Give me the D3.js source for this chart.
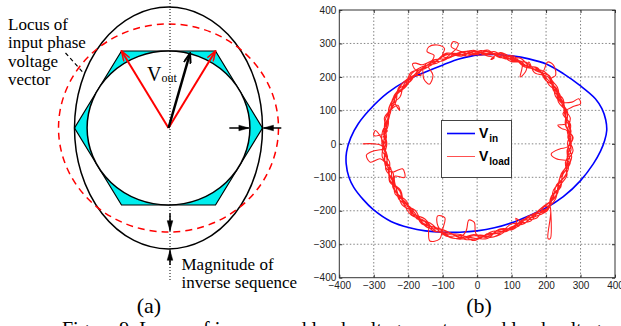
<!DOCTYPE html>
<html>
<head>
<meta charset="utf-8">
<script src="https://cdn.jsdelivr.net/npm/d3@7"></script>
<style>
  body { margin: 0; background: #fff; }
  svg { display: block; }
</style>
</head>
<body>
<script>
// ---- data for plot (b) ----
const tickValues = [-400, -300, -200, -100, 0, 100, 200, 300, 400];
const seriesNames = ["in", "load"];

// input voltage locus (x, y), read around the blue curve
const vinPoints = [
  [370, 10], [376, 40], [373, 72], [362, 105], [343, 135], [299, 174], [250, 210],
  [202, 238], [150, 254], [100, 263], [50, 267], [3, 266], [-50, 254], [-99, 236],
  [-150, 215], [-200, 192], [-260, 152], [-310, 104], [-345, 60], [-367, 18],
  [-379, -25], [-380, -60], [-372, -100], [-358, -130], [-331, -166], [-302, -196],
  [-250, -232], [-196, -251], [-150, -260], [-100, -264], [-50, -264], [0, -260],
  [50, -251], [100, -236], [150, -215], [202, -190], [250, -158], [300, -110],
  [337, -60], [358, -22]
];

// load voltage trace as [angle in degrees, radius], one array per turn
const loadTurn1 = [
  [180, 332], [180, 300], [181, 278], [188, 263], [196, 276], [204, 266], [212, 281], [220, 271],
  [228, 280], [236, 271], [244, 286], [252, 283], [260, 275], [268, 289], [276, 273], [284, 274],
  [292, 259], [296, 262], [296.8, 249], [298.5, 264], [300, 273], [308, 270], [316, 283], [324, 266],
  [332, 272], [340, 265], [348, 276], [356, 264], [4, 272], [12, 264], [20, 279], [28, 274], [36, 288],
  [42.2, 290], [42, 306], [46.6, 323], [50.1, 319], [48.5, 287], [52, 282], [60, 268], [68, 279],
  [76, 266], [84, 282], [92, 269], [100, 276], [108, 269], [116, 280], [124, 285], [126.5, 300],
  [128, 304], [129, 290], [128.3, 262], [132, 273], [140, 277], [148, 264], [156, 278], [164, 270], [172, 274]
];
const loadTurn2 = [
  [180, 265], [183, 271], [184, 300], [186, 323], [190, 315], [189, 285], [192, 272], [196, 266],
  [204, 278], [212, 265], [220, 279], [228, 268], [236, 284], [244, 279], [252, 290], [260, 278],
  [268, 282], [276, 284], [284, 263], [292, 272], [300, 265], [308, 281], [316, 271], [318, 285],
  [306, 350], [306.8, 354], [317, 292], [320, 276], [324, 273], [332, 261], [340, 274], [348, 266],
  [356, 279], [4, 264], [12, 274], [20, 269], [28, 283], [36, 276], [44, 287], [52, 270], [58.5, 287],
  [56.9, 257], [58, 236], [60, 260], [62, 278], [68, 269], [76, 279], [84, 271], [92, 276], [100, 266],
  [108, 282], [116, 273], [124, 271], [132, 287], [140, 272], [148, 278], [156, 270], [164, 280],
  [172, 264], [174, 276], [175.2, 301], [172.3, 298], [176, 280]
];
const loadTurn3 = [
  [180, 272], [188, 278], [196, 261], [204, 270], [212, 276], [220, 267], [228, 284], [236, 276],
  [240, 280], [241, 290], [244.7, 321], [249, 305], [248.6, 276], [247, 240], [242, 244], [245, 270],
  [252, 286], [260, 289], [268, 275], [276, 278], [284, 265], [292, 276], [300, 267], [308, 265],
  [316, 279], [324, 281], [332, 266], [340, 260], [348, 273], [349, 270], [349, 234], [352, 217],
  [356.4, 240], [358, 262], [4, 277], [12, 262], [20, 274], [28, 279], [36, 273], [44, 292], [52, 277],
  [60, 282], [68, 265], [76, 275], [84, 268], [92, 280], [100, 275], [108, 271], [110.9, 282],
  [108.4, 300], [111.3, 317], [115.8, 322], [117.8, 311], [115.3, 293], [118, 280], [124, 275],
  [132, 271], [140, 282], [148, 275], [152, 272], [156, 246], [153.4, 257], [158, 270], [164, 276], [172, 272]
];
const loadTurn4 = [
  [180, 262], [188, 272], [196, 273], [199, 260], [199, 229], [205.5, 233], [202, 257], [204, 263],
  [212, 273], [220, 284], [228, 274], [236, 288], [244, 278], [252, 276], [260, 285], [268, 271],
  [276, 282], [284, 279], [292, 267], [300, 275], [308, 268], [316, 268], [324, 277], [332, 270],
  [340, 277], [348, 262], [356, 273], [4, 267], [12, 277], [20, 265], [21.8, 300], [21.8, 323],
  [24.6, 324], [24.4, 302], [28, 272], [36, 284], [44, 275], [52, 287], [60, 271], [68, 283], [76, 270],
  [84, 278], [92, 266], [100, 281], [104.5, 300], [102.9, 313], [100.4, 305], [101.9, 291], [106, 280],
  [108, 275], [116, 268], [124, 280], [132, 283], [140, 269], [148, 281], [156, 273], [164, 267], [172, 277]
];
const loadTurn5 = [
  [180, 276], [188, 266], [196, 269], [204, 275], [212, 262], [220, 278], [228, 286], [236, 277],
  [244, 290], [252, 278], [260, 283], [263, 262], [264, 229], [268, 235], [269, 266], [272, 282],
  [276, 270], [284, 273], [292, 273], [300, 262], [308, 275], [316, 285], [324, 268], [332, 275],
  [340, 263], [348, 269], [356, 262], [4, 279], [9, 262], [10.5, 250], [13.5, 241], [13, 262], [16, 272],
  [20, 277], [28, 267], [36, 281], [44, 281], [52, 285], [60, 273], [68, 275], [76, 281], [80, 262],
  [81, 255], [79, 262], [84, 265], [92, 277], [100, 270], [108, 285], [116, 275], [121.3, 274],
  [122, 242], [128, 226], [128.5, 249], [125.4, 276], [132, 275], [140, 268], [148, 276], [156, 278],
  [164, 268], [172, 269], [180, 271]
];
const loadTurn6 = [
  [184, 267], [192, 273], [200, 259], [208, 277], [216, 274], [224, 273], [232, 284], [240, 273],
  [248, 284], [256, 291], [264, 279], [272, 273], [280, 282], [288, 269], [296, 274], [304, 262],
  [312, 276], [320, 279], [328, 261], [336, 269], [344, 275], [352, 264], [0, 273], [8, 264],
  [16, 281], [24, 272], [32, 282], [40, 273], [48, 282], [56, 275], [64, 285], [72, 267], [80, 274],
  [88, 279], [96, 264], [104, 279], [112, 279], [120, 270], [128, 278], [136, 269], [144, 280],
  [152, 279], [160, 268], [168, 273], [176, 264]
];
const loadTurn7 = [
  [184, 276], [192, 260], [200, 271], [208, 268], [216, 281], [224, 271], [232, 279], [240, 289],
  [248, 276], [256, 279], [264, 288], [272, 280], [280, 265], [288, 275], [296, 265], [304, 278],
  [312, 268], [320, 273], [328, 276], [336, 261], [344, 271], [352, 277], [0, 262], [8, 275],
  [16, 268], [24, 276], [32, 268], [40, 286], [48, 291], [56, 273], [64, 277], [72, 270], [80, 280],
  [88, 265], [96, 278], [104, 276], [112, 267], [120, 282], [128, 273], [136, 280], [144, 283],
  [152, 267], [160, 273], [168, 264], [176, 274]
];

// ---- geometry of diagram (a), hexagon circumradius = 1 ----
const hexVertices = [[1, 0], [0.5, 0.866], [-0.5, 0.866], [-1, 0], [-0.5, -0.866], [0.5, -0.866]];
const phaseTips = [[-0.5, 0.866], [0.5, 0.866]];
const voutTip = [0.229, 0.84];
const innerRadius = 0.866;
const dashedRadius = 1.17;
const outerRadii = [1.0, 1.36];

const W = 621, H = 326;
const serif = "'Liberation Serif', 'DejaVu Serif', serif";
const sans = "'Liberation Sans', Arial, sans-serif";

const svg = d3.select("body").append("svg")
    .attr("width", W)
    .attr("height", H);

svg.append("rect").attr("width", W).attr("height", H).attr("fill", "#fff");

// arrow heads
const defs = svg.append("defs");
function addMarker(id, color, filled, w) {
    defs.append("marker")
        .attr("id", id)
        .attr("markerUnits", "userSpaceOnUse")
        .attr("viewBox", "0 0 12 8")
        .attr("markerWidth", 12)
        .attr("markerHeight", 8)
        .attr("refX", 11)
        .attr("refY", 4)
        .attr("orient", "auto")
        .append("path")
        .attr("d", filled ? "M1,1.2 L11,4 L1,6.8 Z" : "M1,0.5 L11,4 L1,7.5")
        .attr("fill", filled ? color : "none")
        .attr("stroke", color)
        .attr("stroke-width", w);
}
addMarker("headRed", "#ff0000", false, 1.5);
addMarker("headBlack", "#000", false, 2);
addMarker("headSolid", "#000", true, 0.5);

// ================= (a) =================
const ax = d3.scaleLinear().domain([-1, 1]).range([74.5, 262.5]);
const ay = d3.scaleLinear().domain([-1, 1]).range([216.9, 39.1]);
const rx = r => ax(r) - ax(0);
const ry = r => ay(0) - ay(r);

const diag = svg.append("g");

diag.append("polygon")
    .attr("points", hexVertices.map(d => [ax(d[0]), ay(d[1])].join(",")).join(" "))
    .attr("fill", "#00eeee")
    .attr("stroke", "#000")
    .attr("stroke-width", 1.2);

diag.append("ellipse")
    .attr("cx", ax(0)).attr("cy", ay(0))
    .attr("rx", rx(innerRadius)).attr("ry", ry(innerRadius))
    .attr("fill", "#fff")
    .attr("stroke", "#000")
    .attr("stroke-width", 1.5);

diag.append("ellipse")
    .attr("cx", ax(0)).attr("cy", ay(0))
    .attr("rx", rx(outerRadii[0])).attr("ry", ry(outerRadii[1]))
    .attr("fill", "none")
    .attr("stroke", "#000")
    .attr("stroke-width", 1.5);

diag.append("ellipse")
    .attr("cx", ax(0)).attr("cy", ay(0))
    .attr("rx", rx(dashedRadius)).attr("ry", ry(dashedRadius))
    .attr("fill", "none")
    .attr("stroke", "#ff0000")
    .attr("stroke-width", 1.5)
    .attr("stroke-dasharray", "7,5");

// dotted vertical axis
diag.append("line")
    .attr("x1", ax(0) + 1.5).attr("x2", ax(0) + 1.5)
    .attr("y1", 0).attr("y2", 282)
    .attr("stroke", "#000")
    .attr("stroke-width", 1)
    .attr("stroke-dasharray", "1,2");

diag.selectAll(".phase")
    .data(phaseTips)
    .join("line")
    .attr("class", "phase")
    .attr("x1", ax(0)).attr("y1", ay(0))
    .attr("x2", d => ax(d[0])).attr("y2", d => ay(d[1]))
    .attr("stroke", "#ff0000")
    .attr("stroke-width", 2)
    .attr("marker-end", "url(#headRed)");

diag.append("line")
    .attr("x1", ax(0)).attr("y1", ay(0))
    .attr("x2", ax(voutTip[0])).attr("y2", ay(voutTip[1]))
    .attr("stroke", "#000")
    .attr("stroke-width", 2.5)
    .attr("marker-end", "url(#headBlack)");

// magnitude arrows
const magArrows = [
    [[0.647, 0], [0.855, 0]],
    [[1.2, 0], [1.01, 0]],
    [[0.016, -0.96], [0.016, -1.155]],
    [[0.016, -1.54], [0.016, -1.375]]
];
diag.selectAll(".mag")
    .data(magArrows)
    .join("line")
    .attr("class", "mag")
    .attr("x1", d => ax(d[0][0])).attr("y1", d => ay(d[0][1]))
    .attr("x2", d => ax(d[1][0])).attr("y2", d => ay(d[1][1]))
    .attr("stroke", "#000")
    .attr("stroke-width", 1.5)
    .attr("marker-end", "url(#headSolid)");

// leader line to the locus
diag.append("line")
    .attr("x1", 65.5).attr("y1", 53)
    .attr("x2", 84).attr("y2", 73.5)
    .attr("stroke", "#000")
    .attr("stroke-width", 1.2)
    .attr("stroke-dasharray", "4,3");

const vout = diag.append("text")
    .attr("x", 147).attr("y", 81)
    .attr("font-family", serif)
    .attr("font-size", 20);
vout.append("tspan").text("V");
vout.append("tspan").attr("font-size", 12).attr("dy", 1).text("out");

const locusLines = ["Locus of", "input phase", "voltage", "vector"];
diag.selectAll(".locus")
    .data(locusLines)
    .join("text")
    .attr("class", "locus")
    .attr("x", 8)
    .attr("y", (d, i) => 29.5 + i * 18.6)
    .attr("font-family", serif)
    .attr("font-size", 17)
    .text(d => d);

const magLines = ["Magnitude of", "inverse sequence"];
diag.selectAll(".maglabel")
    .data(magLines)
    .join("text")
    .attr("class", "maglabel")
    .attr("x", 181.5)
    .attr("y", (d, i) => 269.5 + i * 18)
    .attr("font-family", serif)
    .attr("font-size", 17)
    .text(d => d);

// ================= (b) =================
const x = d3.scaleLinear().domain([-400, 400]).range([339.3, 615]);
const y = d3.scaleLinear().domain([-400, 400]).range([277.7, 10]);

const plot = svg.append("g");

plot.selectAll(".vgrid")
    .data(tickValues.slice(1, -1))
    .join("line")
    .attr("class", "vgrid")
    .attr("x1", d => x(d)).attr("x2", d => x(d))
    .attr("y1", y(400)).attr("y2", y(-400))
    .attr("stroke", "#666")
    .attr("stroke-width", 0.8)
    .attr("stroke-dasharray", "1.5,2");

plot.selectAll(".hgrid")
    .data(tickValues.slice(1, -1))
    .join("line")
    .attr("class", "hgrid")
    .attr("x1", x(-400)).attr("x2", x(400))
    .attr("y1", d => y(d)).attr("y2", d => y(d))
    .attr("stroke", "#666")
    .attr("stroke-width", 0.8)
    .attr("stroke-dasharray", "1.5,2");

plot.append("path")
    .datum(vinPoints)
    .attr("d", d3.line()
        .x(d => x(d[0]))
        .y(d => y(d[1]))
        .curve(d3.curveCatmullRomClosed))
    .attr("fill", "none")
    .attr("stroke", "#0000ff")
    .attr("stroke-width", 1.6);

const loadTrace = [].concat(loadTurn1, loadTurn2, loadTurn3, loadTurn4, loadTurn5, loadTurn6, loadTurn7);
const rad = Math.PI / 180;
plot.append("path")
    .datum(loadTrace)
    .attr("d", d3.line()
        .x(d => x(d[1] * Math.cos(d[0] * rad)))
        .y(d => y(d[1] * Math.sin(d[0] * rad)))
        .curve(d3.curveCatmullRom))
    .attr("fill", "none")
    .attr("stroke", "#ff2020")
    .attr("stroke-width", 1.1)
    .attr("stroke-linejoin", "round");

// axis frame and ticks
plot.append("rect")
    .attr("x", x(-400)).attr("y", y(400))
    .attr("width", x(400) - x(-400)).attr("height", y(-400) - y(400))
    .attr("fill", "none")
    .attr("stroke", "#333")
    .attr("stroke-width", 1);

const xAxis = plot.append("g")
    .attr("transform", `translate(0,${y(-400)})`)
    .call(d3.axisBottom(x).tickValues(tickValues).tickSize(-3).tickPadding(4));
const yAxis = plot.append("g")
    .attr("transform", `translate(${x(-400)},0)`)
    .call(d3.axisLeft(y).tickValues(tickValues).tickSize(-3).tickPadding(3));
plot.append("g")
    .attr("transform", `translate(0,${y(400)})`)
    .call(d3.axisTop(x).tickValues(tickValues).tickSize(-3).tickFormat(""));
plot.append("g")
    .attr("transform", `translate(${x(400)},0)`)
    .call(d3.axisRight(y).tickValues(tickValues).tickSize(-3).tickFormat(""));

plot.selectAll(".domain").remove();
plot.selectAll(".tick line").attr("stroke", "#333");
plot.selectAll(".tick text")
    .attr("font-family", sans)
    .attr("font-size", 10)
    .attr("fill", "#222");

// legend
const legend = plot.append("g");
legend.append("rect")
    .attr("x", 441.5).attr("y", 120.5)
    .attr("width", 70).attr("height", 57)
    .attr("fill", "#fff")
    .attr("stroke", "#444")
    .attr("stroke-width", 1);

const legendColors = ["#0000ff", "#ff5050"];
const legendWidths = [1.6, 1];
seriesNames.forEach((name, i) => {
    const ly = 133.5 + i * 23;
    legend.append("line")
        .attr("x1", 447).attr("x2", 475)
        .attr("y1", ly).attr("y2", ly)
        .attr("stroke", legendColors[i])
        .attr("stroke-width", legendWidths[i]);
    const t = legend.append("text")
        .attr("x", 479).attr("y", ly + 4)
        .attr("font-family", sans)
        .attr("font-weight", "bold")
        .attr("font-size", 14);
    t.append("tspan").text("V");
    t.append("tspan").attr("font-size", 10).attr("dx", 1).attr("dy", 4).text(name);
});

// ================= labels =================
svg.append("text")
    .attr("x", 149).attr("y", 313)
    .attr("text-anchor", "middle")
    .attr("font-family", serif)
    .attr("font-size", 22)
    .text("(a)");

svg.append("text")
    .attr("x", 479).attr("y", 313)
    .attr("text-anchor", "middle")
    .attr("font-family", serif)
    .attr("font-size", 22)
    .text("(b)");

svg.append("text")
    .attr("x", 62).attr("y", 336)
    .attr("font-family", serif)
    .attr("font-size", 20)
    .text("Figure 9. Locus of inverse and load voltage vectors and load voltages");
</script>
</body>
</html>
